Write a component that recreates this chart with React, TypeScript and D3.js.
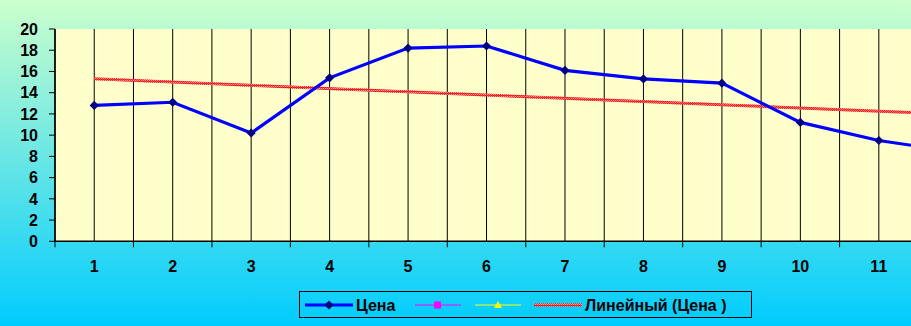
import React from "react";
import * as d3 from "d3";

const categories = ["1", "2", "3", "4", "5", "6", "7", "8", "9", "10", "11", "12"];
const prices = [12.8, 13.1, 10.2, 15.4, 18.2, 18.4, 16.1, 15.3, 14.9, 11.2, 9.5, 8.4];
const yTicks = [0, 2, 4, 6, 8, 10, 12, 14, 16, 18, 20];
const legendLabels = ["Цена", "", "", "Линейный (Цена )"];

const W = 911;
const H = 326;
const FONT = "'Liberation Sans', Arial, sans-serif";

export default function App() {
  const left = 55;
  const top = 29;
  const bottom = 241.3;
  const step = 78.46;
  const right = left + step * categories.length;

  const x = d3.scaleBand<string>().domain(categories).range([left, right]).padding(0);
  const cx = (c: string) => (x(c) as number) + x.bandwidth() / 2;
  const y = d3.scaleLinear().domain([0, 20]).range([bottom, top]);

  // linear trendline (least squares) from the data
  const xs = prices.map((_, i) => i + 1);
  const mx = d3.mean(xs) as number;
  const my = d3.mean(prices) as number;
  const sxy = d3.sum(xs.map((v, i) => (v - mx) * (prices[i] - my)));
  const sxx = d3.sum(xs.map((v) => (v - mx) * (v - mx)));
  const slope = sxy / sxx;
  const icpt = my - slope * mx;
  const t0 = icpt + slope * 1;
  const t1 = icpt + slope * categories.length;

  const line = d3
    .line<number>()
    .x((_, i) => cx(categories[i]))
    .y((d) => y(d));

  const boundaries = d3.range(categories.length + 1).map((i) => left + i * x.bandwidth());

  const diamond = d3.symbol().type(d3.symbolSquare).size(42)();
  const legY = 305;
  const visibleCats = categories.filter((c) => cx(c) + 10 < W);

  return (
    <div style={{ position: "fixed", left: 0, top: 0 }}>
      <svg width={W} height={H} style={{ display: "block" }}>
        <defs>
          <linearGradient id="bg" x1="0" y1="0" x2="0" y2="1">
            <stop offset="0%" stopColor="#ccffcc" />
            <stop offset="100%" stopColor="#00ccff" />
          </linearGradient>
          <pattern id="checker" width="2" height="2" patternUnits="userSpaceOnUse">
            <rect width="2" height="2" fill="#ffb0b0" />
            <rect width="1" height="1" fill="#ff0000" />
            <rect x="1" y="1" width="1" height="1" fill="#ff0000" />
          </pattern>
        </defs>
        <rect x={0} y={0} width={W} height={H} fill="url(#bg)" />
        <rect x={left} y={top} width={right - left} height={bottom - top} fill="#ffffcc" />

        {/* vertical grid at category centers and boundaries */}
        {categories.map((c) => (
          <line key={"g" + c} x1={cx(c)} x2={cx(c)} y1={top} y2={bottom} stroke="#000" strokeWidth={1} />
        ))}
        {boundaries.map((b, i) => (
          <line key={"b" + i} x1={b} x2={b} y1={top} y2={bottom + 6} stroke="#000" strokeWidth={1} />
        ))}

        {/* axes */}
        <line x1={left} x2={right} y1={bottom} y2={bottom} stroke="#000" strokeWidth={1.5} />
        <line x1={left} x2={left} y1={top} y2={bottom} stroke="#000" strokeWidth={1.5} />
        {yTicks.map((t) => (
          <g key={"y" + t}>
            <line x1={left - 6} x2={left} y1={y(t)} y2={y(t)} stroke="#000" strokeWidth={1} />
            <text
              x={38}
              y={y(t)}
              dy="0.36em"
              textAnchor="end"
              fontFamily={FONT}
              fontWeight="bold"
              fontSize={16}
              fill="#000"
            >
              {t}
            </text>
          </g>
        ))}
        {visibleCats.map((c) => (
          <text
            key={"x" + c}
            x={cx(c)}
            y={266}
            dy="0.36em"
            textAnchor="middle"
            fontFamily={FONT}
            fontWeight="bold"
            fontSize={16}
            fill="#000"
          >
            {c}
          </text>
        ))}

        {/* trendline */}
        <line
          x1={cx(categories[0])}
          x2={cx(categories[categories.length - 1])}
          y1={y(t0)}
          y2={y(t1)}
          stroke="url(#checker)"
          strokeWidth={3}
        />
        <line
          x1={cx(categories[0])}
          x2={cx(categories[categories.length - 1])}
          y1={y(t0)}
          y2={y(t1)}
          stroke="#ff3030"
          strokeWidth={2.5}
          strokeDasharray="1 1"
        />

        {/* price line */}
        <path d={line(prices) || ""} fill="none" stroke="#0000ff" strokeWidth={3.2} />
        {prices.map((p, i) => (
          <path
            key={"m" + i}
            d={diamond || ""}
            transform={`translate(${cx(categories[i])},${y(p)}) rotate(45)`}
            fill="#000080"
          />
        ))}

        {/* legend */}
        <rect x={299.5} y={291.5} width={452} height={26} fill="none" stroke="#000" strokeWidth={1} />
        <line x1={305} x2={353} y1={legY} y2={legY} stroke="#0000ff" strokeWidth={3} />
        <path d={diamond || ""} transform={`translate(329,${legY}) rotate(45)`} fill="#000080" />
        <text x={356} y={legY} dy="0.36em" fontFamily={FONT} fontWeight="bold" fontSize={16} fill="#000">
          {legendLabels[0]}
        </text>
        <line x1={415} x2={461} y1={legY} y2={legY} stroke="#ff00ff" strokeWidth={1} />
        <rect x={434} y={legY - 3.5} width={7} height={7} fill="#ff00ff" />
        <line x1={475} x2={521} y1={legY} y2={legY} stroke="#ffff00" strokeWidth={1} />
        <path d="M498,301 L502,308 L494,308 Z" fill="#ffff00" />
        <line x1={534} x2={582} y1={legY} y2={legY} stroke="url(#checker)" strokeWidth={3} />
        <line x1={534} x2={582} y1={legY} y2={legY} stroke="#ff3030" strokeWidth={2.5} strokeDasharray="1 1" />
        <text x={585} y={legY} dy="0.36em" fontFamily={FONT} fontWeight="bold" fontSize={16} fill="#000">
          {legendLabels[3]}
        </text>
      </svg>
    </div>
  );
}
